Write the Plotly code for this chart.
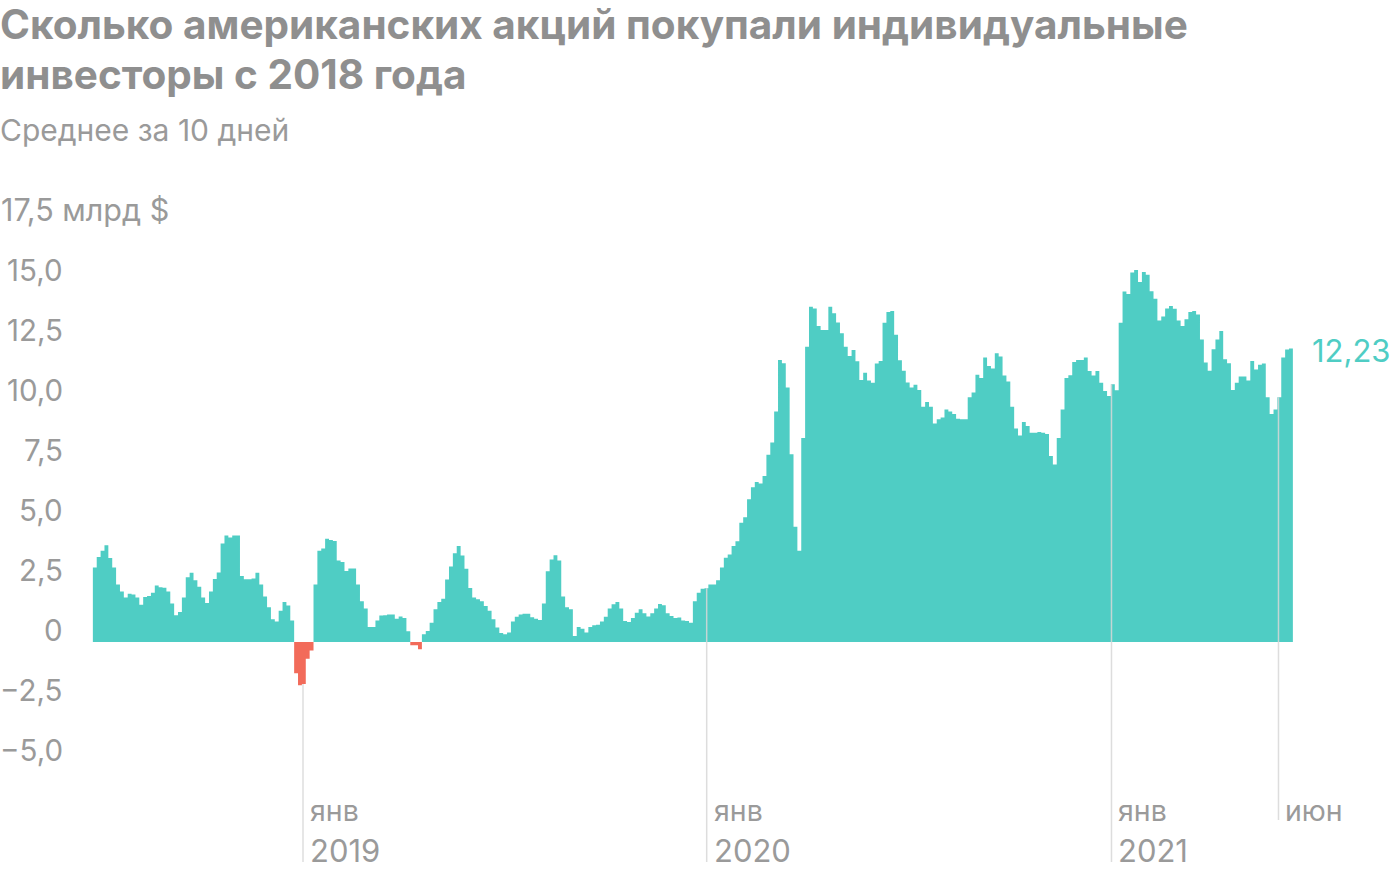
import pandas as pd
import numpy as np
import plotly.graph_objects as go

# ---- data (half-week steps, 10-day average net purchases, bln $) ----
period_start = pd.date_range("2018-06-25", periods=310, freq="84h")
values = [
    3.1, 3.54, 3.8, 4.03, 3.5, 3.1, 2.4, 2.1, 1.85, 2.01,
    1.98, 1.85, 1.55, 1.87, 1.92, 2.05, 2.35, 2.28, 2.26, 2.1,
    1.6, 1.11, 1.25, 1.85, 2.7, 2.89, 2.57, 2.3, 1.85, 1.62,
    2.1, 2.62, 2.9, 4.1, 4.44, 4.35, 4.44, 4.44, 2.75, 2.61,
    2.61, 2.65, 2.89, 2.4, 1.9, 1.45, 0.95, 0.85, 1.3, 1.67,
    1.52, 0.9, -1.3, -1.8, -1.75, -0.7, -0.35, 2.4, 3.8, 3.9,
    4.3, 4.25, 4.21, 3.4, 3.33, 2.96, 3.06, 3.06, 2.4, 1.7,
    1.4, 0.62, 0.62, 0.9, 1.1, 1.11, 1.15, 1.15, 0.97, 1.06,
    1.0, 0.45, -0.14, -0.14, -0.3, 0.32, 0.46, 0.8, 1.36, 1.67,
    1.8, 2.6, 3.15, 3.7, 4.0, 3.6, 3.05, 2.25, 1.85, 1.78,
    1.7, 1.5, 1.3, 0.95, 0.6, 0.38, 0.32, 0.4, 0.85, 1.05,
    1.15, 1.18, 1.18, 1.03, 0.97, 0.92, 1.6, 2.95, 3.44, 3.61,
    3.4, 1.9, 1.45, 1.36, 0.25, 0.62, 0.55, 0.4, 0.62, 0.7,
    0.72, 0.85, 1.05, 1.4, 1.57, 1.67, 1.4, 0.88, 0.83, 1.0,
    1.22, 1.36, 1.2, 1.06, 1.2, 1.4, 1.58, 1.53, 1.2, 1.08,
    1.0, 1.02, 0.9, 0.88, 0.8, 1.7, 2.05, 2.22, 2.24, 2.4,
    2.4, 2.57, 3.1, 3.51, 3.65, 4.0, 4.2, 4.97, 5.2, 5.95,
    6.45, 6.67, 6.6, 6.92, 7.8, 8.31, 9.6, 11.75, 11.61, 10.6,
    7.82, 4.8, 3.8, 8.5, 12.3, 13.97, 13.9, 13.17, 13.0, 13.0,
    13.97, 13.7, 13.31, 12.86, 12.3, 11.92, 12.17, 11.7, 10.92, 11.22,
    10.9, 10.8, 11.6, 11.71, 13.3, 13.75, 13.79, 12.8, 11.74, 11.3,
    10.81, 10.6, 10.72, 10.5, 9.8, 10.0, 9.8, 9.1, 9.28, 9.35,
    9.69, 9.6, 9.5, 9.3, 9.28, 9.28, 10.2, 10.4, 11.14, 11.0,
    11.85, 11.5, 11.4, 12.03, 11.9, 11.1, 10.85, 9.8, 8.9, 8.6,
    9.17, 9.0, 8.72, 8.72, 8.75, 8.72, 8.67, 7.75, 7.4, 8.5,
    9.69, 11.0, 11.11, 11.67, 11.75, 11.75, 11.85, 11.29, 11.1, 11.29,
    10.8, 10.46, 10.25, 10.74, 10.49, 13.3, 14.6, 14.5, 15.4, 15.5,
    15.0, 15.42, 15.3, 14.61, 14.3, 13.4, 13.56, 13.9, 14.0, 13.89,
    13.4, 13.17, 13.45, 13.75, 13.79, 13.65, 12.6, 11.65, 11.3, 12.2,
    12.6, 12.96, 11.78, 11.61, 10.5, 10.8, 11.06, 11.06, 10.9, 11.71,
    11.35, 11.55, 11.6, 10.2, 9.5, 9.69, 10.2, 11.85, 12.19, 12.23,
]
last_label = "12,23"

y_ticks = [15.0, 12.5, 10.0, 7.5, 5.0, 2.5, 0.0, -2.5, -5.0]
y_tick_text = ["15,0", "12,5", "10,0", "7,5", "5,0", "2,5", "0", "\u22122,5", "\u22125,0"]
top_tick_value = 17.5
top_tick_text = "17,5 млрд $"

x_marks = ["2019-01-01", "2020-01-01", "2021-01-01", "2021-06-01"]
x_mark_month = ["янв", "янв", "янв", "июн"]
x_mark_year = ["2019", "2020", "2021", ""]

title_lines = ["Сколько американских акций покупали индивидуальные", "инвесторы с 2018 года"]
subtitle = "Среднее за 10 дней"

# ---- style ----
TEAL = "#4FCDC4"
RED = "#F26B5A"
GRAY = "#9a9a9a"
TITLE_GRAY = "#8f8f8f"
FONT = "Inter, Roboto, sans-serif"

W, H = 1400, 872
TOP, BOTTOM = 222, 862
Y_MAX = 17.5
PX_PER_UNIT = 24.0
ZERO_PX = 642
Y_MIN = -(BOTTOM - ZERO_PX) / PX_PER_UNIT


def py(px):
    """pixel row -> paper y"""
    return (BOTTOM - px) / (BOTTOM - TOP)


# x mapping: 2019-01-01 at px 303, ~1.106 px per day
ref = pd.Timestamp("2019-01-01")
ppd = 1.106
x_left = ref - pd.Timedelta(days=303 / ppd)
x_right = ref + pd.Timedelta(days=(W - 303) / ppd)

step = period_start[1] - period_start[0]
xs = list(period_start) + [period_start[-1] + step]
pos = [max(v, 0) for v in values] + [max(values[-1], 0)]
neg = [min(v, 0) for v in values] + [min(values[-1], 0)]

fig = go.Figure()
fig.add_trace(go.Scatter(x=xs, y=pos, mode="lines", line=dict(shape="hv", width=0, color=TEAL),
                         fill="tozeroy", fillcolor=TEAL, hoverinfo="skip"))
fig.add_trace(go.Scatter(x=xs, y=neg, mode="lines", line=dict(shape="hv", width=0, color=RED),
                         fill="tozeroy", fillcolor=RED, hoverinfo="skip"))

# drop lines at period marks
ps = np.array(period_start.values)
for d, m in zip(x_marks, x_mark_month):
    ts = pd.Timestamp(d)
    idx = int(np.searchsorted(ps, np.datetime64(ts), side="right") - 1)
    v = values[idx]
    bottom_v = Y_MIN if m == "янв" else -(820 - ZERO_PX) / PX_PER_UNIT
    fig.add_shape(type="line", xref="x", yref="y", x0=ts, x1=ts, y0=v, y1=bottom_v,
                  line=dict(color="rgba(215,215,215,0.85)", width=1.5), layer="above")

annotations = []
# x labels
for d, m, yr in zip(x_marks, x_mark_month, x_mark_year):
    annotations.append(dict(x=d, y=-(810 - ZERO_PX) / PX_PER_UNIT, xref="x", yref="y",
                            text=m, showarrow=False, xanchor="left", yanchor="middle",
                            xshift=5, font=dict(size=28.5, color=GRAY, family=FONT)))
    if yr:
        annotations.append(dict(x=d, y=-(850 - ZERO_PX) / PX_PER_UNIT, xref="x", yref="y",
                                text=yr, showarrow=False, xanchor="left", yanchor="middle",
                                xshift=5, font=dict(size=31, color=GRAY, family=FONT)))
# y labels
for v, t in zip(y_ticks, y_tick_text):
    annotations.append(dict(x=65 / W, y=v + 0.5, xref="paper", yref="y", text=t,
                            showarrow=False, xanchor="right", yanchor="middle",
                            font=dict(size=29.5, color=GRAY, family=FONT)))
annotations.append(dict(x=0, y=py(ZERO_PX - (top_tick_value + 0.5) * PX_PER_UNIT),
                        xref="paper", yref="paper", text=top_tick_text,
                        showarrow=False, xanchor="left", yanchor="middle", xshift=-1,
                        font=dict(size=30.5, color=GRAY, family=FONT)))
# last value label
annotations.append(dict(x=1310 / W, y=values[-1] - 0.1, xref="paper", yref="y", text=last_label,
                        showarrow=False, xanchor="left", yanchor="middle",
                        font=dict(size=31, color=TEAL, family=FONT)))
# title + subtitle
for line, cy in zip(title_lines, [24, 75]):
    annotations.append(dict(x=0, y=py(cy), xref="paper", yref="paper",
                            text="<b>" + line + "</b>", showarrow=False, xanchor="left",
                            yanchor="middle", xshift=-2,
                            font=dict(size=40.5, color=TITLE_GRAY, family=FONT)))
annotations.append(dict(x=0, y=py(130), xref="paper", yref="paper",
                        text=subtitle, showarrow=False, xanchor="left", yanchor="middle",
                        xshift=-2, font=dict(size=30, color=GRAY, family=FONT)))

fig.update_layout(
    width=W, height=H,
    margin=dict(l=0, r=0, t=TOP, b=H - BOTTOM, pad=0),
    paper_bgcolor="white", plot_bgcolor="white",
    showlegend=False,
    xaxis=dict(range=[x_left, x_right], showgrid=False, zeroline=False,
               showticklabels=False, ticks="", showline=False, fixedrange=True),
    yaxis=dict(range=[Y_MIN, Y_MAX], showgrid=False, zeroline=False,
               showticklabels=False, ticks="", showline=False, fixedrange=True),
    annotations=annotations,
)

fig.write_html("out.html")
